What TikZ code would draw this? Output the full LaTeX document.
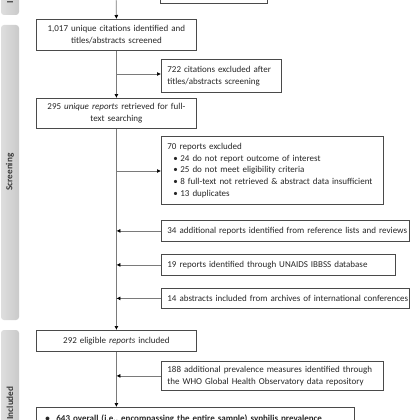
\documentclass[tikz,border=0pt]{standalone}
\usepackage{fontspec}
\setmainfont{Carlito}
\usetikzlibrary{arrows.meta}
\definecolor{boxline}{HTML}{4A4A4A}
\definecolor{conn}{HTML}{7A7A7A}
\definecolor{panelL}{HTML}{DEDEDE}
\definecolor{panelR}{HTML}{CACACA}
\definecolor{txt}{HTML}{262626}
\definecolor{ptxt}{HTML}{3A3A3A}
\begin{document}
\begin{tikzpicture}[x=1pt,y=-1pt,
  box/.style={draw=boxline, line width=0.8pt, rectangle, inner xsep=6pt, inner ysep=0pt,
    anchor=north west, font=\fontsize{9}{11.8}\selectfont, text=txt},
  arr/.style={draw=conn, line width=0.7pt, -{Latex[length=4pt,width=4pt,color=black]}},
  panel/.style={left color=panelL, right color=panelR, rounded corners=3pt},
  ptext/.style={rotate=90, font=\fontsize{9.2}{11}\selectfont\bfseries, text=ptxt}
]
\clip (0,0) rectangle (420,420);
\useasboundingbox (0,0) rectangle (420,420);

% side panels
\shade[panel] (1,-70) rectangle (19,15);
\shade[panel] (1,25) rectangle (19,320);
\shade[panel] (1,330) rectangle (19,480);
\node[ptext] (pid) at (10,-22) {Identification};
\node[ptext] (pscr) at (10,172) {Screening};
\node[ptext] (pinc) at (10,403) {Included};

% boxes
\node[box, anchor=south west, minimum width=107pt, minimum height=40pt] (b0) at (160,4) {};
\coordinate (top) at (116,-10);
\node[box, text width=148pt, minimum height=31pt, align=center] (b1) at (36,19)
  {1,017 unique citations identified and\\titles/abstracts screened};
\node[box, text width=108pt, minimum height=33pt, align=left] (b2) at (161,59)
  {722 citations excluded after\\titles/abstracts screening};
\node[box, text width=148pt, minimum height=30pt, align=center] (b3) at (36,98)
  {295 \textit{unique reports} retrieved for full-\\text searching};
\node[box, text width=210pt, minimum height=68pt, align=left] (b4) at (161,136)
  {70 reports excluded\\
   \hspace*{6pt}\makebox[7pt][l]{\textbullet}24 do not report outcome of interest\\
   \hspace*{6pt}\makebox[7pt][l]{\textbullet}25 do not meet eligibility criteria\\
   \hspace*{6pt}\makebox[7pt][l]{\textbullet}8 full-text not retrieved \& abstract data insufficient\\
   \hspace*{6pt}\makebox[7pt][l]{\textbullet}13 duplicates};
\node[box, text width=236pt, minimum height=21pt, align=left] (b5) at (161,220)
  {\mbox{34 additional reports identified from reference lists and reviews}};
\node[box, text width=222pt, minimum height=21pt, align=left] (b6) at (161,254)
  {\mbox{19 reports identified through UNAIDS IBBSS database}};
\node[box, text width=236pt, minimum height=20pt, align=left] (b7) at (161,288)
  {\mbox{14 abstracts included from archives of international conferences}};
\node[box, text width=148pt, minimum height=21pt, align=center] (b8) at (36,330)
  {292 eligible \textit{reports} included};
\node[box, text width=210pt, minimum height=29pt, align=left] (b9) at (161,361)
  {188 additional prevalence measures identified through\\the WHO Global Health Observatory data repository};
\node[box, text width=306pt, inner ysep=7pt, align=left, font=\fontsize{9}{11.8}\selectfont\bfseries] (b10) at (36,407)
  {\hspace*{3pt}\makebox[11pt][l]{\textbullet}\mbox{643 overall (i.e., encompassing the entire sample) syphilis prevalence}};

% junctions on the main line
\coordinate (j1) at (116,74);
\coordinate (j2) at (116,171);

% connectors
\draw[arr] (top) -- (b1.north);
\draw[arr] (b1.south) -- (b3.north);
\draw[arr] (b3.south) -- (b8.north);
\draw[arr] (b8.south) -- (b10.north -| b8.south);
\draw[arr] (j1) -- (j1 -| b2.west);
\draw[arr] (j2) -- (j2 -| b4.west);
\draw[arr] (b5.west) -- (b5.west -| b1.south);
\draw[arr] (b6.west) -- (b6.west -| b1.south);
\draw[arr] (b7.west) -- (b7.west -| b1.south);
\draw[arr] (b9.west) -- (b9.west -| b1.south);
\end{tikzpicture}
\end{document}
